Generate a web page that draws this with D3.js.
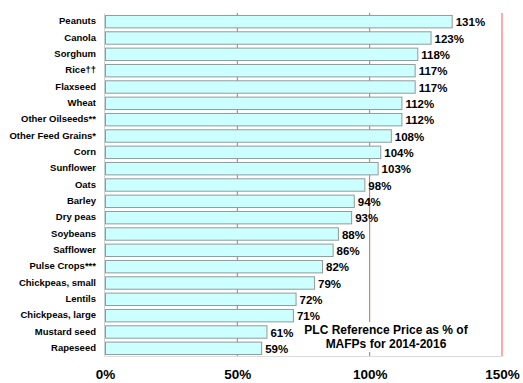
<!DOCTYPE html>
<html lang="en">
<head>
<meta charset="UTF-8">
<title>PLC Reference Price as % of MAFPs</title>
<script src="https://cdn.jsdelivr.net/npm/d3@7.8.5/dist/d3.min.js"></script>
<style>
    body { margin: 0; background: #fff; font-family: Arial, "Liberation Sans", sans-serif; }
    svg { display: block; }
</style>
</head>
<body>
<div id="chart"></div>
<script>
    // crops and their PLC reference price as % of MAFPs
    const crops = ["Peanuts", "Canola", "Sorghum", "Rice\u2020\u2020", "Flaxseed", "Wheat",
        "Other Oilseeds**", "Other Feed Grains*", "Corn", "Sunflower", "Oats", "Barley",
        "Dry peas", "Soybeans", "Safflower", "Pulse Crops***", "Chickpeas, small",
        "Lentils", "Chickpeas, large", "Mustard seed", "Rapeseed"];
    const pct = [131, 123, 118, 117, 117, 112, 112, 108, 104, 103, 98, 94, 93, 88, 86, 82, 79, 72, 71, 61, 59];
    const xTicks = [0, 50, 100, 150];

    const W = 523, H = 383;
    const margin = {top: 13, right: 21, bottom: 27, left: 105};

    const svg = d3.select("#chart").append("svg")
        .attr("width", W).attr("height", H);

    const x = d3.scaleLinear().domain([0, 150]).range([margin.left, W - margin.right]);
    const y = d3.scaleBand().domain(crops)
        .range([margin.top, H - margin.bottom])
        .paddingInner(0.24).paddingOuter(0.12);

    // red reference lines
    svg.selectAll("line.ref")
        .data([50, 100, 150])
        .enter().append("line")
        .attr("class", "ref")
        .attr("x1", d => x(d)).attr("x2", d => x(d))
        .attr("y1", margin.top).attr("y2", H - margin.bottom)
        .attr("stroke", d => d === 150 ? "#ff8c8c" : "#e85a5a")
        .attr("stroke-width", d => d === 150 ? 1.5 : 1);

    // bars
    svg.selectAll("rect.bar")
        .data(crops)
        .enter().append("rect")
        .attr("class", "bar")
        .attr("x", x(0) + 0.5)
        .attr("y", d => y(d) + 0.5)
        .attr("width", (d, i) => x(pct[i]) - x(0))
        .attr("height", y.bandwidth())
        .attr("fill", "#ccffff")
        .attr("stroke", "#8c9c9c")
        .attr("stroke-width", 1);

    // value labels
    svg.selectAll("text.val")
        .data(crops)
        .enter().append("text")
        .attr("class", "val")
        .attr("x", (d, i) => x(pct[i]) + 4)
        .attr("y", d => y(d) + y.bandwidth() / 2 + 1)
        .attr("dy", "0.35em")
        .style("font-size", "11.5px")
        .style("font-weight", "bold")
        .text((d, i) => pct[i] + "%");

    // y axis
    const yAxis = svg.append("g")
        .attr("transform", `translate(${margin.left - 1},0)`)
        .call(d3.axisLeft(y).tickSize(0).tickPadding(8));
    yAxis.select(".domain").attr("stroke", "#cfcfcf");
    yAxis.selectAll("text")
        .style("font-size", "9.5px")
        .style("font-weight", "bold")
        .style("font-family", "Arial, 'Liberation Sans', sans-serif");

    // x axis
    const xAxis = svg.append("g")
        .attr("transform", `translate(0,${H - margin.bottom})`)
        .call(d3.axisBottom(x).tickValues(xTicks).tickSize(0).tickPadding(13)
            .tickFormat(d => d + "%"));
    xAxis.select(".domain").attr("stroke", "#dcdcdc");
    xAxis.selectAll("text")
        .style("font-size", "13.5px")
        .style("font-weight", "bold")
        .style("font-family", "Arial, 'Liberation Sans', sans-serif");

    // annotation box
    const note = svg.append("g");
    note.append("rect")
        .attr("x", 301).attr("y", 322)
        .attr("width", 168).attr("height", 30)
        .attr("fill", "#fff");
    note.selectAll("text")
        .data(["PLC Reference Price as % of", "MAFPs for 2014-2016"])
        .enter().append("text")
        .attr("x", 386)
        .attr("y", (d, i) => 334 + i * 14)
        .attr("text-anchor", "middle")
        .style("font-size", "12px")
        .style("font-weight", "bold")
        .text(d => d);
</script>
</body>
</html>
